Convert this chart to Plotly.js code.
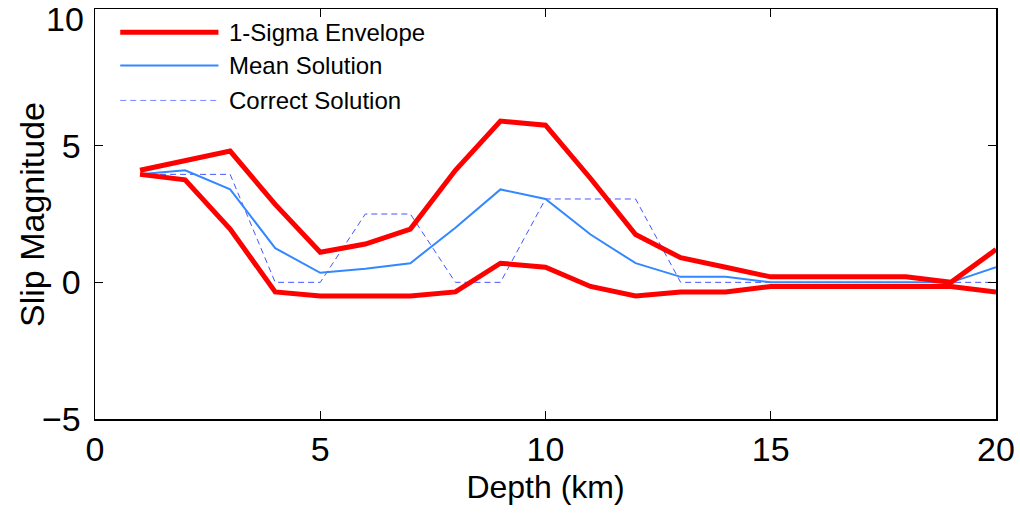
<!DOCTYPE html>
<html>
<head>
<meta charset="utf-8">
<script src="https://cdn.plot.ly/plotly-3.0.1.min.js"></script>
<style>html,body{margin:0;padding:0;background:#fff;}#chart{width:1020px;height:513px;}</style>
</head>
<body>
<div id="chart"></div>
<script>
const depth = [1,2,3,4,5,6,7,8,9,10,11,12,13,14,15,16,17,18,19,20];
const sigmaUpper = [4.1,4.45,4.8,2.85,1.1,1.4,1.95,4.1,5.9,5.75,3.8,1.75,0.9,0.55,0.2,0.2,0.2,0.2,0.0,1.2];
const sigmaLower = [3.95,3.75,1.95,-0.35,-0.5,-0.5,-0.5,-0.35,0.7,0.55,-0.15,-0.5,-0.35,-0.35,-0.15,-0.15,-0.15,-0.15,-0.15,-0.35];
const meanSolution = [3.95,4.1,3.4,1.25,0.35,0.5,0.7,2.0,3.4,3.05,1.75,0.7,0.2,0.2,0.0,0.0,0.0,0.0,0.0,0.55];
const correctSolution = [3.95,3.95,3.95,0,0,2.5,2.5,0,0,3.05,3.05,3.05,0,0,0,0,0,0,0,0];
const xTicks = [0,5,10,15,20];
const yTicks = [-5,0,5,10];
const yTickText = ['\u22125','0','5','10'];
const legendNames = ['1-Sigma Envelope','Mean Solution','Correct Solution'];
const xTitle = 'Depth (km)';
const yTitle = 'Slip Magnitude';

const red = '#ff0000', blue = '#3388ff', dashBlue = '#4455ff';
const font = 'Liberation Sans, Arial, Helvetica, sans-serif';
const tickFont = {family: font, size: 34, color: '#000'};

const traces = [
  {x: depth, y: correctSolution, mode: 'lines', line: {color: dashBlue, width: 1, dash: '6px,4px'}, name: legendNames[2]},
  {x: depth, y: meanSolution, mode: 'lines', line: {color: blue, width: 2}, name: legendNames[1]},
  {x: depth, y: sigmaUpper, mode: 'lines', line: {color: red, width: 5}, name: legendNames[0]},
  {x: depth, y: sigmaLower, mode: 'lines', line: {color: red, width: 5}, name: legendNames[0]}
];

// custom legend (long line samples)
const legY = [0.943, 0.862, 0.777];
const legStyles = [
  {color: red, width: 5},
  {color: blue, width: 2},
  {color: '#7788ff', width: 1, dash: '6px,4px'}
];
const shapes = [], annotations = [];
legendNames.forEach((n, i) => {
  shapes.push({type: 'line', xref: 'paper', yref: 'paper', x0: 0.028, x1: 0.137, y0: legY[i], y1: legY[i], line: legStyles[i]});
  annotations.push({xref: 'paper', yref: 'paper', x: 0.146, y: legY[i], xanchor: 'left', yanchor: 'middle', text: n, showarrow: false, font: {family: font, size: 24, color: '#000'}});
});
// top y tick label sits slightly below the frame edge, as in the reference
annotations.push({xref: 'paper', yref: 'y', x: 0, y: yTicks[3], xanchor: 'right', yanchor: 'middle', xshift: -9, yshift: -10, text: yTickText[3], showarrow: false, font: tickFont});
// y-axis title
annotations.push({xref: 'paper', yref: 'paper', x: -0.07, y: 0.5, xanchor: 'center', yanchor: 'middle', textangle: -90, text: yTitle, showarrow: false, font: {family: font, size: 34, color: '#000'}});

const axisCommon = {
  showgrid: false, zeroline: false, showline: true, linecolor: '#000', linewidth: 1.5,
  mirror: 'allticks', ticks: 'inside', ticklen: 8, tickwidth: 1, tickcolor: '#000',
  tickfont: tickFont
};

const layout = {
  width: 1020, height: 513,
  margin: {l: 95, r: 24, t: 9, b: 94},
  paper_bgcolor: '#fff', plot_bgcolor: '#fff',
  showlegend: false,
  xaxis: Object.assign({}, axisCommon, {
    range: [0, 20], tickvals: xTicks, ticktext: xTicks.map(String),
    title: {text: xTitle, font: {family: font, size: 32, color: '#000'}, standoff: 8}
  }),
  yaxis: Object.assign({}, axisCommon, {
    range: [-5, 10], tickvals: yTicks, ticktext: ['\u22125','0','5',''], ticklabelstandoff: 6
  }),
  shapes: shapes,
  annotations: annotations
};

Plotly.newPlot('chart', traces, layout, {displayModeBar: false, staticPlot: true});
</script>
</body>
</html>
